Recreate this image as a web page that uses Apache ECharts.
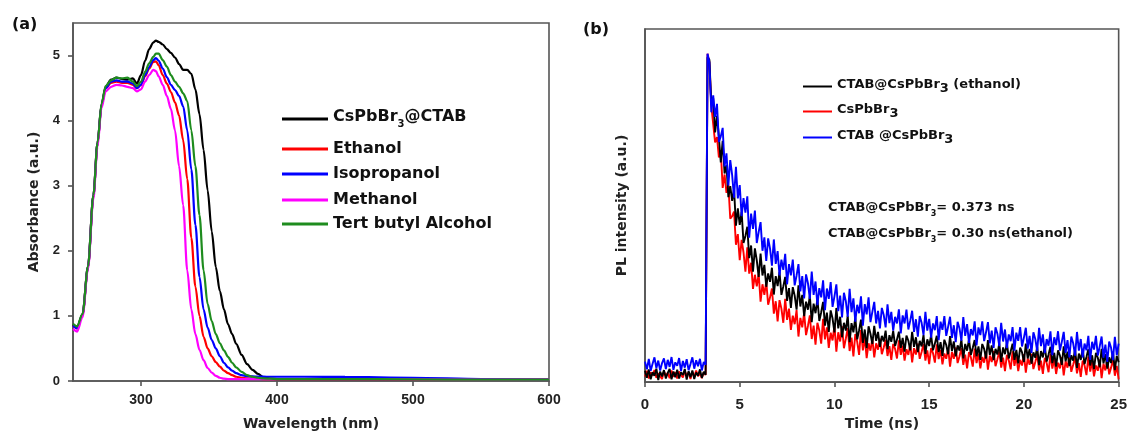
<!DOCTYPE html>
<html>
<head>
<meta charset="utf-8">
<script src="https://cdn.jsdelivr.net/npm/echarts@6/dist/echarts.min.js"></script>
<style>
html,body{margin:0;padding:0;background:#fff;}
#chart{width:1130px;height:436px;}
</style>
</head>
<body>
<div id="chart"></div>
<script>
// ---------- Panel (a): absorbance ----------
const wavelength = [250,253,257,261,265,268,271,274,278,282,286,290,294,297,300,303,306,309,311,313,316,319,322,325,328,331,334,337,340,343,346,349,352,355,358,361,364,367,370,374,378,382,386,390,395,400,420,450,500,550,600];
const absCsPbBr3CTAB = [0.87,0.83,1.02,1.75,2.85,3.65,4.25,4.52,4.63,4.66,4.64,4.63,4.65,4.57,4.7,4.92,5.1,5.2,5.23,5.21,5.17,5.1,5.04,4.97,4.87,4.78,4.78,4.72,4.48,4.1,3.55,2.93,2.3,1.75,1.38,1.1,0.87,0.72,0.57,0.4,0.26,0.17,0.11,0.06,0.035,0.03,0.03,0.03,0.025,0.02,0.02];
const absEthanol = [0.85,0.81,1.02,1.75,2.85,3.65,4.24,4.5,4.58,4.6,4.58,4.58,4.55,4.5,4.55,4.68,4.8,4.9,4.91,4.85,4.7,4.57,4.44,4.28,4.08,3.7,3.1,2.2,1.45,1.0,0.68,0.5,0.38,0.29,0.22,0.16,0.12,0.09,0.065,0.05,0.04,0.035,0.033,0.03,0.03,0.03,0.03,0.03,0.025,0.02,0.02];
const absIsopropanol = [0.85,0.81,1.02,1.75,2.85,3.65,4.24,4.5,4.6,4.62,4.6,4.6,4.57,4.5,4.55,4.7,4.82,4.93,4.96,4.92,4.8,4.67,4.55,4.47,4.38,4.22,3.85,3.25,2.4,1.6,1.1,0.82,0.63,0.5,0.38,0.28,0.21,0.16,0.12,0.09,0.075,0.07,0.068,0.066,0.065,0.065,0.065,0.062,0.05,0.03,0.02];
const absMethanol = [0.8,0.76,0.98,1.72,2.8,3.6,4.2,4.45,4.52,4.55,4.54,4.52,4.5,4.45,4.48,4.6,4.7,4.78,4.76,4.68,4.55,4.38,4.18,3.85,3.3,2.7,1.7,1.1,0.72,0.48,0.32,0.2,0.13,0.08,0.05,0.035,0.03,0.03,0.03,0.03,0.03,0.03,0.03,0.03,0.03,0.03,0.03,0.03,0.025,0.02,0.02];
const absTertButyl = [0.88,0.84,1.03,1.76,2.86,3.66,4.26,4.53,4.62,4.66,4.65,4.66,4.6,4.53,4.6,4.75,4.88,4.98,5.03,5.03,4.93,4.83,4.7,4.6,4.52,4.42,4.3,3.85,3.3,2.55,1.7,1.18,0.92,0.72,0.58,0.47,0.37,0.28,0.21,0.14,0.09,0.065,0.05,0.04,0.035,0.03,0.03,0.03,0.025,0.02,0.02];
const absTicks = [0,1,2,3,4,5];
const wlTicks = [300,400,500,600];

// ---------- Panel (b): PL decay ----------
const timeNs = [
0,0.1,0.2,0.3,0.4,0.5,0.6,0.7,0.8,0.9,1,1.1,1.2,1.3,1.4,1.5,1.6,1.7,1.8,1.9,
2,2.1,2.2,2.3,2.4,2.5,2.6,2.7,2.8,2.9,3,3.1,3.2,3.3,3.4,3.5,3.6,3.7,3.8,3.9,
4,4.1,4.2,4.3,4.4,4.5,4.6,4.7,4.8,4.9,5,5.1,5.2,5.3,5.4,5.5,5.6,5.7,5.8,5.9,
6,6.1,6.2,6.3,6.4,6.5,6.6,6.7,6.8,6.9,7,7.1,7.2,7.3,7.4,7.5,7.6,7.7,7.8,7.9,
8,8.1,8.2,8.3,8.4,8.5,8.6,8.7,8.8,8.9,9,9.1,9.2,9.3,9.4,9.5,9.6,9.7,9.8,9.9,
10,10.1,10.2,10.3,10.4,10.5,10.6,10.7,10.8,10.9,11,11.1,11.2,11.3,11.4,11.5,11.6,11.7,11.8,11.9,
12,12.1,12.2,12.3,12.4,12.5,12.6,12.7,12.8,12.9,13,13.1,13.2,13.3,13.4,13.5,13.6,13.7,13.8,13.9,
14,14.1,14.2,14.3,14.4,14.5,14.6,14.7,14.8,14.9,15,15.1,15.2,15.3,15.4,15.5,15.6,15.7,15.8,15.9,
16,16.1,16.2,16.3,16.4,16.5,16.6,16.7,16.8,16.9,17,17.1,17.2,17.3,17.4,17.5,17.6,17.7,17.8,17.9,
18,18.1,18.2,18.3,18.4,18.5,18.6,18.7,18.8,18.9,19,19.1,19.2,19.3,19.4,19.5,19.6,19.7,19.8,19.9,
20,20.1,20.2,20.3,20.4,20.5,20.6,20.7,20.8,20.9,21,21.1,21.2,21.3,21.4,21.5,21.6,21.7,21.8,21.9,
22,22.1,22.2,22.3,22.4,22.5,22.6,22.7,22.8,22.9,23,23.1,23.2,23.3,23.4,23.5,23.6,23.7,23.8,23.9,
24,24.1,24.2,24.3,24.4,24.5,24.6,24.7,24.8,24.9,25];

const plCtabEthanol = [
.032,.012,.036,.008,.028,.018,.038,.006,.03,.016,.034,.01,.026,.037,.008,.03,.014,.035,.01,.028,.02,.037,.007,.031,.014,.033,.009,.027,.018,.036,.012,.029,.021,
.92,
.913,.786,.804,.707,.754,.695,.622,.683,.591,.614,
.524,.555,.513,.547,.443,.492,.445,.482,.394,.414,
.44,.351,.387,.313,.379,.345,.298,.364,.302,.332,
.27,.308,.284,.324,.248,.30,.272,.312,.247,.271,
.298,.23,.266,.21,.269,.245,.205,.274,.214,.247,
.187,.228,.205,.245,.17,.222,.195,.236,.173,.198,
.227,.16,.197,.142,.203,.18,.141,.21,.152,.185,
.127,.168,.146,.188,.113,.167,.141,.183,.121,.147,
.177,.111,.149,.096,.158,.137,.108,.159,.117,.142,
.10,.131,.115,.146,.093,.133,.114,.145,.102,.121,
.143,.097,.125,.086,.132,.117,.09,.142,.10,.127,
.085,.117,.101,.133,.08,.121,.102,.133,.09,.109,
.131,.085,.113,.074,.12,.105,.079,.13,.088,.115,
.073,.104,.089,.12,.067,.108,.089,.121,.077,.097,
.119,.073,.101,.063,.108,.094,.067,.119,.077,.104,
.062,.094,.078,.11,.057,.098,.079,.111,.067,.087,
.109,.063,.091,.053,.098,.084,.057,.109,.067,.094,
.052,.084,.069,.10,.048,.088,.07,.102,.058,.078,
.10,.054,.083,.044,.09,.075,.049,.101,.059,.086,
.045,.076,.061,.093,.04,.081,.063,.094,.051,.071,
.093,.047,.076,.037,.083,.069,.042,.094,.053,.079,
.038,.07,.054,.086,.034,.074,.056];

const plCsPbBr3 = [
.016,.032,.01,.028,.019,.034,.012,.025,.03,.009,.031,.018,.026,.011,.033,.015,.028,.01,.03,.02,.013,.031,.019,.027,.009,.029,.015,.033,.017,.025,.011,.028,.02,
.93,
.905,.782,.783,.679,.694,.636,.656,.55,.588,.536,
.559,.463,.47,.483,.389,.419,.345,.403,.367,.313,
.382,.307,.338,.264,.304,.271,.307,.228,.277,.247,
.285,.219,.24,.265,.194,.229,.172,.232,.208,.168,
.236,.176,.208,.148,.188,.164,.204,.129,.182,.155,
.196,.133,.159,.189,.122,.16,.106,.168,.146,.109,
.179,.121,.155,.097,.14,.118,.16,.086,.141,.115,
.158,.096,.123,.153,.088,.126,.073,.136,.114,.077,
.147,.09,.125,.068,.11,.089,.123,.07,.11,.092,
.123,.079,.098,.12,.074,.102,.063,.108,.094,.067,
.118,.077,.103,.061,.093,.077,.108,.056,.096,.078,
.109,.066,.085,.108,.061,.09,.051,.096,.082,.055,
.107,.065,.091,.05,.081,.066,.097,.044,.085,.066,
.098,.054,.073,.096,.049,.078,.039,.085,.07,.044,
.095,.054,.081,.039,.071,.055,.087,.035,.075,.057,
.088,.045,.065,.087,.041,.069,.031,.077,.062,.036,
.087,.046,.073,.031,.063,.047,.079,.027,.067,.049,
.08,.037,.057,.079,.033,.061,.023,.069,.054,.028,
.079,.038,.065,.023,.055,.039,.071,.019,.059,.041,
.073,.029,.049,.071,.025,.054,.015,.061,.047,.02,
.072,.03,.057,.016,.047,.032,.064,.011,.052,.033,
.065,.022,.041,.064,.018,.046,.008];

const plCtab = [
.058,.036,.066,.032,.052,.07,.039,.061,.033,.054,.067,.037,.063,.043,.071,.035,.056,.046,.068,.031,.06,.041,.065,.034,.051,.07,.038,.062,.045,.066,.033,.057,.049,
.93,
.905,.764,.812,.751,.788,.68,.696,.72,.611,.648,
.557,.629,.586,.522,.61,.52,.558,.47,.521,.48,
.526,.409,.477,.434,.486,.394,.425,.453,.372,.41,
.343,.407,.378,.33,.404,.335,.371,.302,.347,.318,
.363,.277,.334,.302,.347,.274,.302,.334,.257,.30,
.237,.305,.28,.236,.313,.247,.285,.218,.266,.24,
.288,.204,.265,.236,.283,.213,.243,.277,.201,.245,
.183,.253,.229,.185,.264,.198,.237,.171,.219,.195,
.243,.16,.221,.192,.24,.17,.199,.227,.166,.202,
.152,.21,.19,.155,.22,.167,.199,.146,.185,.166,
.206,.138,.189,.166,.205,.149,.174,.202,.142,.178,
.129,.187,.168,.133,.199,.146,.179,.126,.166,.147,
.187,.119,.171,.148,.187,.131,.157,.185,.125,.161,
.113,.171,.152,.117,.184,.131,.164,.111,.15,.132,
.172,.104,.155,.133,.172,.116,.141,.17,.11,.146,
.097,.155,.137,.102,.168,.115,.149,.096,.135,.116,
.156,.089,.14,.117,.156,.101,.126,.154,.095,.131,
.083,.141,.122,.088,.154,.102,.135,.082,.122,.103,
.144,.076,.127,.105,.144,.089,.114,.142,.083,.119,
.07,.129,.11,.075,.142,.089,.122,.07,.109,.09,
.131,.063,.114,.092,.131,.075,.101,.129,.069,.106,
.057,.115,.097,.062,.128,.076,.109];
const timeTicks = [0,5,10,15,20,25];

const namesA = ['CsPbBr3@CTAB','Ethanol','Isopropanol','Methanol','Tert butyl Alcohol'];
const namesB = ['CTAB@CsPbBr3 (ethanol)','CsPbBr3','CTAB @CsPbBr3'];

function pairs(xs, ys){ return xs.map((x,i)=>[x, ys[i]]); }

const SANS = 'DejaVu Sans';
const TICKF = 'Liberation Sans';
const AXC = '#555';
const TXC = '#222';

const chart = echarts.init(document.getElementById('chart'), null, {renderer:'canvas'});

function axisCommon(){
  return {
    axisLine:{show:true, onZero:false, lineStyle:{color:AXC, width:1.6}},
    axisTick:{show:true, inside:false, length:5, lineStyle:{color:AXC, width:1.6}},
    splitLine:{show:false},
    axisLabel:{color:TXC, fontFamily:TICKF, fontWeight:'bold', fontSize:14},
    nameTextStyle:{color:TXC, fontFamily:SANS, fontWeight:'bold', fontSize:14}
  };
}

const richA = {
  t:{fontFamily:SANS, fontWeight:'bold', fontSize:16, color:'#111', verticalAlign:'bottom', padding:[0,0,4,0]},
  s:{fontFamily:SANS, fontWeight:'bold', fontSize:10, color:'#111', verticalAlign:'bottom'}
};
const richB = {
  t:{fontFamily:SANS, fontWeight:'bold', fontSize:13, color:'#111', verticalAlign:'bottom', padding:[0,0,4,0]},
  s:{fontFamily:SANS, fontWeight:'bold', fontSize:13, color:'#111', verticalAlign:'bottom'}
};
const richNote = {
  t:{fontFamily:SANS, fontWeight:'bold', fontSize:13, color:'#111', verticalAlign:'bottom', padding:[0,0,4,0]},
  s:{fontFamily:SANS, fontWeight:'bold', fontSize:8, color:'#111', verticalAlign:'bottom'}
};

function fmtA(name){
  if (name === 'CsPbBr3@CTAB') return '{t|CsPbBr}{s|3}{t|@CTAB}';
  return name;
}
function fmtB(name){
  if (name === 'CTAB@CsPbBr3 (ethanol)') return '{t|CTAB@CsPbBr}{s|3}{t| (ethanol)}';
  if (name === 'CsPbBr3') return '{t|CsPbBr}{s|3}';
  if (name === 'CTAB @CsPbBr3') return '{t|CTAB @CsPbBr}{s|3}';
  return name;
}

const legendTopsA = [109, 141, 166, 192, 216];
const legendTopsB = [78, 103, 129];

const legends = [];
namesA.forEach((n,i)=>legends.push({
  data:[n], left:282, top:legendTopsA[i], padding:0, itemWidth:46, itemHeight:3, icon:'rect',
  selectedMode:false, formatter:fmtA,
  textStyle:{fontFamily:SANS, fontWeight:'bold', fontSize:16, color:'#111', rich:richA}
}));
namesB.forEach((n,i)=>legends.push({
  data:[n], left:803, top:legendTopsB[i], padding:0, itemWidth:29, itemHeight:2, icon:'rect',
  selectedMode:false, formatter:fmtB,
  textStyle:{fontFamily:SANS, fontWeight:'bold', fontSize:13, color:'#111', rich:richB}
}));

const colorsA = ['#000000','#ff0000','#0000ff','#ff00ff','#1e8c1e'];
const dataA = [absCsPbBr3CTAB, absEthanol, absIsopropanol, absMethanol, absTertButyl];

const seriesA = namesA.map((n,i)=>({
  name:n, type:'line', xAxisIndex:0, yAxisIndex:0,
  data:pairs(wavelength, dataA[i]),
  showSymbol:false, symbol:'none', smooth:0.3, smoothMonotone:'x',
  lineStyle:{color:colorsA[i], width:2.2}, itemStyle:{color:colorsA[i]},
  z:2+i
}));

const seriesB = [
  {name:namesB[1], color:'#ff0000', data:plCsPbBr3, z:2},
  {name:namesB[0], color:'#000000', data:plCtabEthanol, z:3},
  {name:namesB[2], color:'#0000ff', data:plCtab, z:4}
].map(s=>({
  name:s.name, type:'line', xAxisIndex:1, yAxisIndex:1,
  data:pairs(timeNs, s.data),
  showSymbol:false, symbol:'none',
  lineStyle:{color:s.color, width:1.9}, itemStyle:{color:s.color},
  z:s.z
}));

const option = {
  animation:false,
  backgroundColor:'#ffffff',
  legend:legends,
  grid:[
    {left:73, top:23, right:581, bottom:54.4, show:true, borderColor:AXC, borderWidth:1.6, backgroundColor:'transparent', containLabel:false},
    {left:645, top:29, right:11, bottom:51, show:true, borderColor:AXC, borderWidth:1.6, backgroundColor:'transparent', containLabel:false}
  ],
  xAxis:[
    Object.assign(axisCommon(), {
      type:'value', gridIndex:0, min:250, max:600,
      name:'Wavelength (nm)', nameLocation:'middle', nameGap:36,
      axisTick:{show:true, inside:false, length:5, customValues:wlTicks, lineStyle:{color:AXC, width:1.6}},
      axisLabel:{color:TXC, fontFamily:TICKF, fontWeight:'bold', fontSize:14, margin:12, customValues:wlTicks}
    }),
    Object.assign(axisCommon(), {
      type:'value', gridIndex:1, min:0, max:25, interval:5,
      name:'Time (ns)', nameLocation:'middle', nameGap:33,
      axisLabel:{color:TXC, fontFamily:TICKF, fontWeight:'bold', fontSize:15, margin:15, customValues:timeTicks},
      axisTick:{show:true, inside:false, length:5, customValues:timeTicks, lineStyle:{color:AXC, width:1.6}}
    })
  ],
  yAxis:[
    Object.assign(axisCommon(), {
      type:'value', gridIndex:0, min:0, max:5.5,
      name:'Absorbance (a.u.)', nameLocation:'middle', nameGap:32, nameRotate:90,
      axisTick:{show:true, inside:false, length:5, customValues:absTicks, lineStyle:{color:AXC, width:1.6}},
      axisLabel:{color:TXC, fontFamily:TICKF, fontWeight:'bold', fontSize:13, margin:13, customValues:absTicks}
    }),
    Object.assign(axisCommon(), {
      type:'value', gridIndex:1, min:0, max:1,
      name:'PL intensity (a.u.)', nameLocation:'middle', nameGap:16, nameRotate:90,
      axisTick:{show:false}, axisLabel:{show:false}
    })
  ],
  graphic:[
    {type:'text', left:12, top:17, style:{text:'(a)', fontFamily:SANS, fontWeight:'bold', fontSize:16, fill:'#111'}},
    {type:'text', left:583, top:22, style:{text:'(b)', fontFamily:SANS, fontWeight:'bold', fontSize:16, fill:'#111'}},
    {type:'text', left:828, top:201, style:{text:'{t|CTAB@CsPbBr}{s|3}{t|= 0.373 ns}', rich:richNote, fontFamily:SANS, fontWeight:'bold', fontSize:13, fill:'#111'}},
    {type:'text', left:828, top:227, style:{text:'{t|CTAB@CsPbBr}{s|3}{t|= 0.30 ns(ethanol)}', rich:richNote, fontFamily:SANS, fontWeight:'bold', fontSize:13, fill:'#111'}}
  ],
  series:seriesA.concat(seriesB)
};
chart.setOption(option);
</script>
</body>
</html>
